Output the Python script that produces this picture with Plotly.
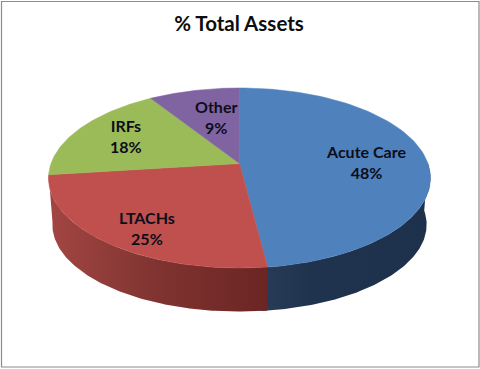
import numpy as np
import plotly.graph_objects as go

categories = ["Acute Care", "LTACHs", "IRFs", "Other"]
values = [48, 25, 18, 9]
title_text = "% Total Assets"

# Style and layout (pixels of the 480x369 picture)
colors = ["#4f81bd", "#c0504d", "#9bbb59", "#8064a2"]
W, H = 480, 369
CX, CY = 239.5, 163.5      # pie centre on the top face
A, B, PERSP = 188.5, 87.7, 0.161
RIM_SCALE_X, RIM_SCALE_Y, DEPTH = 0.98, 0.966, 47.1
label_anchor_x = [365.5, 146.5, 126, 216]
label_anchor_y = [161.5, 227.5, 135.5, 116.5]
FONT = "Lato"


def project(theta_deg):
    t = np.radians(theta_deg)
    u, v = np.sin(t), np.cos(t)
    w = 1 + PERSP * v
    return A * u / w, B * v / w


def top_xy(theta):
    X, Y = project(theta)
    return CX + X, CY - Y


def low_xy(theta):
    X, Y = project(theta)
    return CX + RIM_SCALE_X * X, CY - (RIM_SCALE_Y * Y - DEPTH)


edges = np.concatenate([[0], np.cumsum(values)]) / sum(values) * 360
fig = go.Figure()

# Side wall: one polygon per visible slice, shaded with a horizontal gradient.
# The blue wall runs slightly under the red one so no seam shows at the split.
side = [
    (90.0, edges[1] + 1.5, [[0, "rgb(40,60,88)"], [0.3, "rgb(31,51,79)"], [1, "rgb(29,49,77)"]]),
    (edges[1], edges[2], [[0, "rgb(163,70,67)"], [0.45, "rgb(130,53,50)"], [1, "rgb(107,37,35)"]]),
]
for start, end, stops in side:
    th = np.linspace(start, end, 120)
    tx, ty = top_xy(th)
    bx, by = low_xy(th[::-1])
    fig.add_trace(go.Scatter(x=np.r_[tx, bx, tx[0]], y=np.r_[ty, by, ty[0]],
                             mode="lines", fill="toself",
                             fillgradient=dict(type="horizontal", colorscale=stops),
                             line=dict(width=0), hoverinfo="skip", showlegend=False))

# Top face
for i, cat in enumerate(categories):
    th = np.linspace(edges[i], edges[i + 1], 90)
    xs, ys = top_xy(th)
    fig.add_trace(go.Scatter(x=np.r_[CX, xs, CX], y=np.r_[CY, ys, CY],
                             mode="lines", fill="toself", fillcolor=colors[i],
                             line=dict(color=colors[i], width=0.5), name=cat,
                             hoverinfo="name", showlegend=False))

# Data labels
for cat, val, lx, ly in zip(categories, values, label_anchor_x, label_anchor_y):
    fig.add_annotation(x=lx, y=ly, text=f"<b>{cat}<br>{val}%</b>", showarrow=False,
                       font=dict(family=FONT, size=16, color="#0d0d1a"))

fig.update_layout(
    width=W, height=H, margin=dict(l=0, r=0, t=0, b=0),
    paper_bgcolor="white", plot_bgcolor="white", showlegend=False,
    title=dict(text=f"<b>{title_text}</b>", x=239 / W, xanchor="center",
               y=1 - 24 / H, yanchor="middle",
               font=dict(family=FONT, size=20.5, color="#0d0d0d")),
    xaxis=dict(range=[0, W], visible=False, fixedrange=True),
    yaxis=dict(range=[H, 0], visible=False, fixedrange=True),
    shapes=[dict(type="rect", xref="x", yref="y", x0=1.5, y0=1.5, x1=479, y1=367,
                 line=dict(color="#8c8c8c", width=1.2), fillcolor="rgba(0,0,0,0)")],
)

fig.write_html("out.html", post_script="document.body.style.margin='0';",
               config=dict(displayModeBar=False))
